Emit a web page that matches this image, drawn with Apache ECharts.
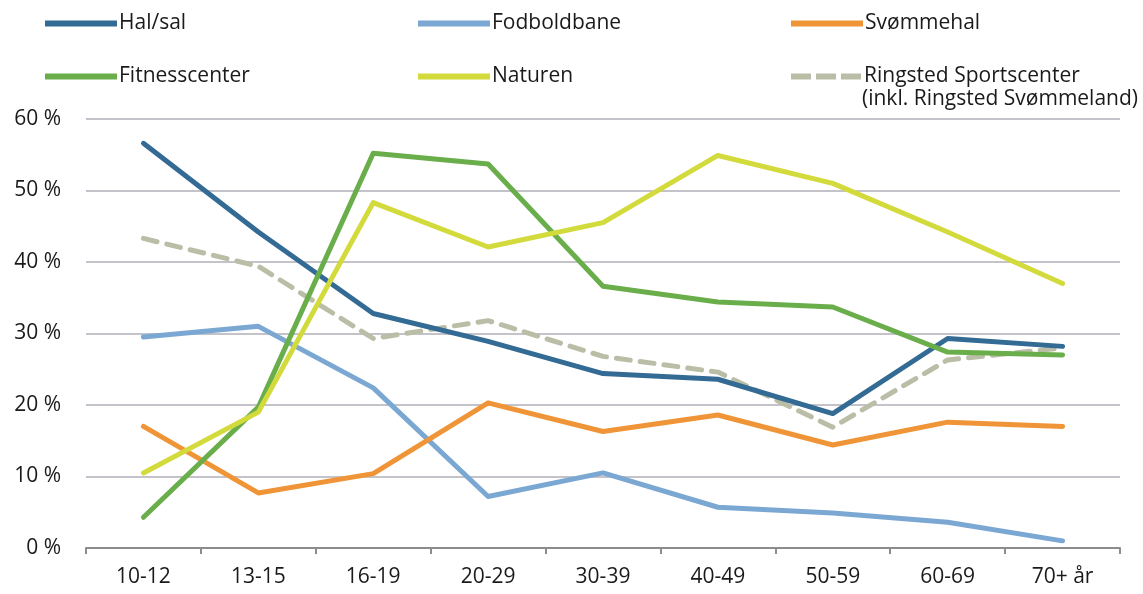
<!DOCTYPE html>
<html><head><meta charset="utf-8">
<script src="https://cdn.jsdelivr.net/npm/echarts@6/dist/echarts.min.js"></script>
<style>html,body{margin:0;padding:0;background:#fff}#c{width:1143px;height:594px}</style>
</head><body><div id="c"></div>
<script>
const categories = ['10-12','13-15','16-19','20-29','30-39','40-49','50-59','60-69','70+ år'];
const halSal = [56.6, 44.2, 32.8, 28.9, 24.4, 23.6, 18.8, 29.3, 28.2];
const fodboldbane = [29.5, 31.0, 22.4, 7.2, 10.5, 5.7, 4.9, 3.6, 1.0];
const svommehal = [17.0, 7.7, 10.4, 20.3, 16.3, 18.6, 14.4, 17.6, 17.0];
const fitnesscenter = [4.3, 19.7, 55.2, 53.7, 36.6, 34.4, 33.7, 27.4, 27.0];
const naturen = [10.5, 19.0, 48.3, 42.1, 45.5, 54.9, 51.0, 44.2, 37.0];
const ringsted = [43.3, 39.4, 29.3, 31.8, 26.8, 24.6, 16.9, 26.3, 28.0];
const seriesNames = ['Hal/sal','Fodboldbane','Svømmehal','Fitnesscenter','Naturen','Ringsted Sportscenter'];
const ringstedSub = '(inkl. Ringsted Svømmeland)';
const yTicks = [0,10,20,30,40,50,60];

const colors = ['#336B94','#7BA8D3','#F09537','#6AAE4C','#D3DA3C','#BBBEA7'];
const dataSets = [halSal, fodboldbane, svommehal, fitnesscenter, naturen, ringsted];
const font = '"Open Sans", sans-serif';

const legendPos = [[40,8],[413,8],[786,8],[40,61],[413,61],[786,61]];
const legends = seriesNames.map((n,i)=>({
  data:[{name:n, icon: i===5 ? 'path://M0,0h20v6h-20z M25,0h20v6h-20z M50,0h20v6h-20z' : 'rect'}],
  left: legendPos[i][0], top: legendPos[i][1],
  itemWidth: 72, itemHeight: 6, itemGap: 0,
  textStyle:{fontFamily:font, fontSize:21, color:'#1a1a1a', padding:[0,0,0,-3]},
  selectedMode:false
}));

const chart = echarts.init(document.getElementById('c'));
chart.setOption({
  animation:false,
  color: colors,
  legend: legends,
  graphic:[{type:'text', left:862, top:89, style:{text:ringstedSub, font:'21px "Open Sans", sans-serif', fill:'#1a1a1a'}}],
  grid:{left:86, right:23, top:119, bottom:46, containLabel:false},
  xAxis:{type:'category', data:categories, boundaryGap:true,
    axisLine:{lineStyle:{color:'#8c8c8c', width:2}},
    axisTick:{show:true, length:6, lineStyle:{color:'#8c8c8c', width:2}},
    axisLabel:{fontFamily:font, fontSize:21, color:'#1a1a1a', margin:19}},
  yAxis:{type:'value', min:yTicks[0], max:yTicks[yTicks.length-1], interval:10,
    axisLine:{show:false}, axisTick:{show:false},
    splitLine:{lineStyle:{color:'#C3C3C9', width:2}},
    axisLabel:{fontFamily:font, fontSize:21, color:'#1a1a1a', margin:25, formatter: v=> v+' %'}},
  series: seriesNames.map((n,i)=>({
    name:n, type:'line', data:dataSets[i], showSymbol:false, symbol:'none',
    lineStyle:{width:5, color:colors[i], type: i===5 ? [14,10] : 'solid', cap:'round', join:'round'},
    itemStyle:{color:colors[i]},
    z: i===5 ? 1 : 2
  }))
});
</script></body></html>
